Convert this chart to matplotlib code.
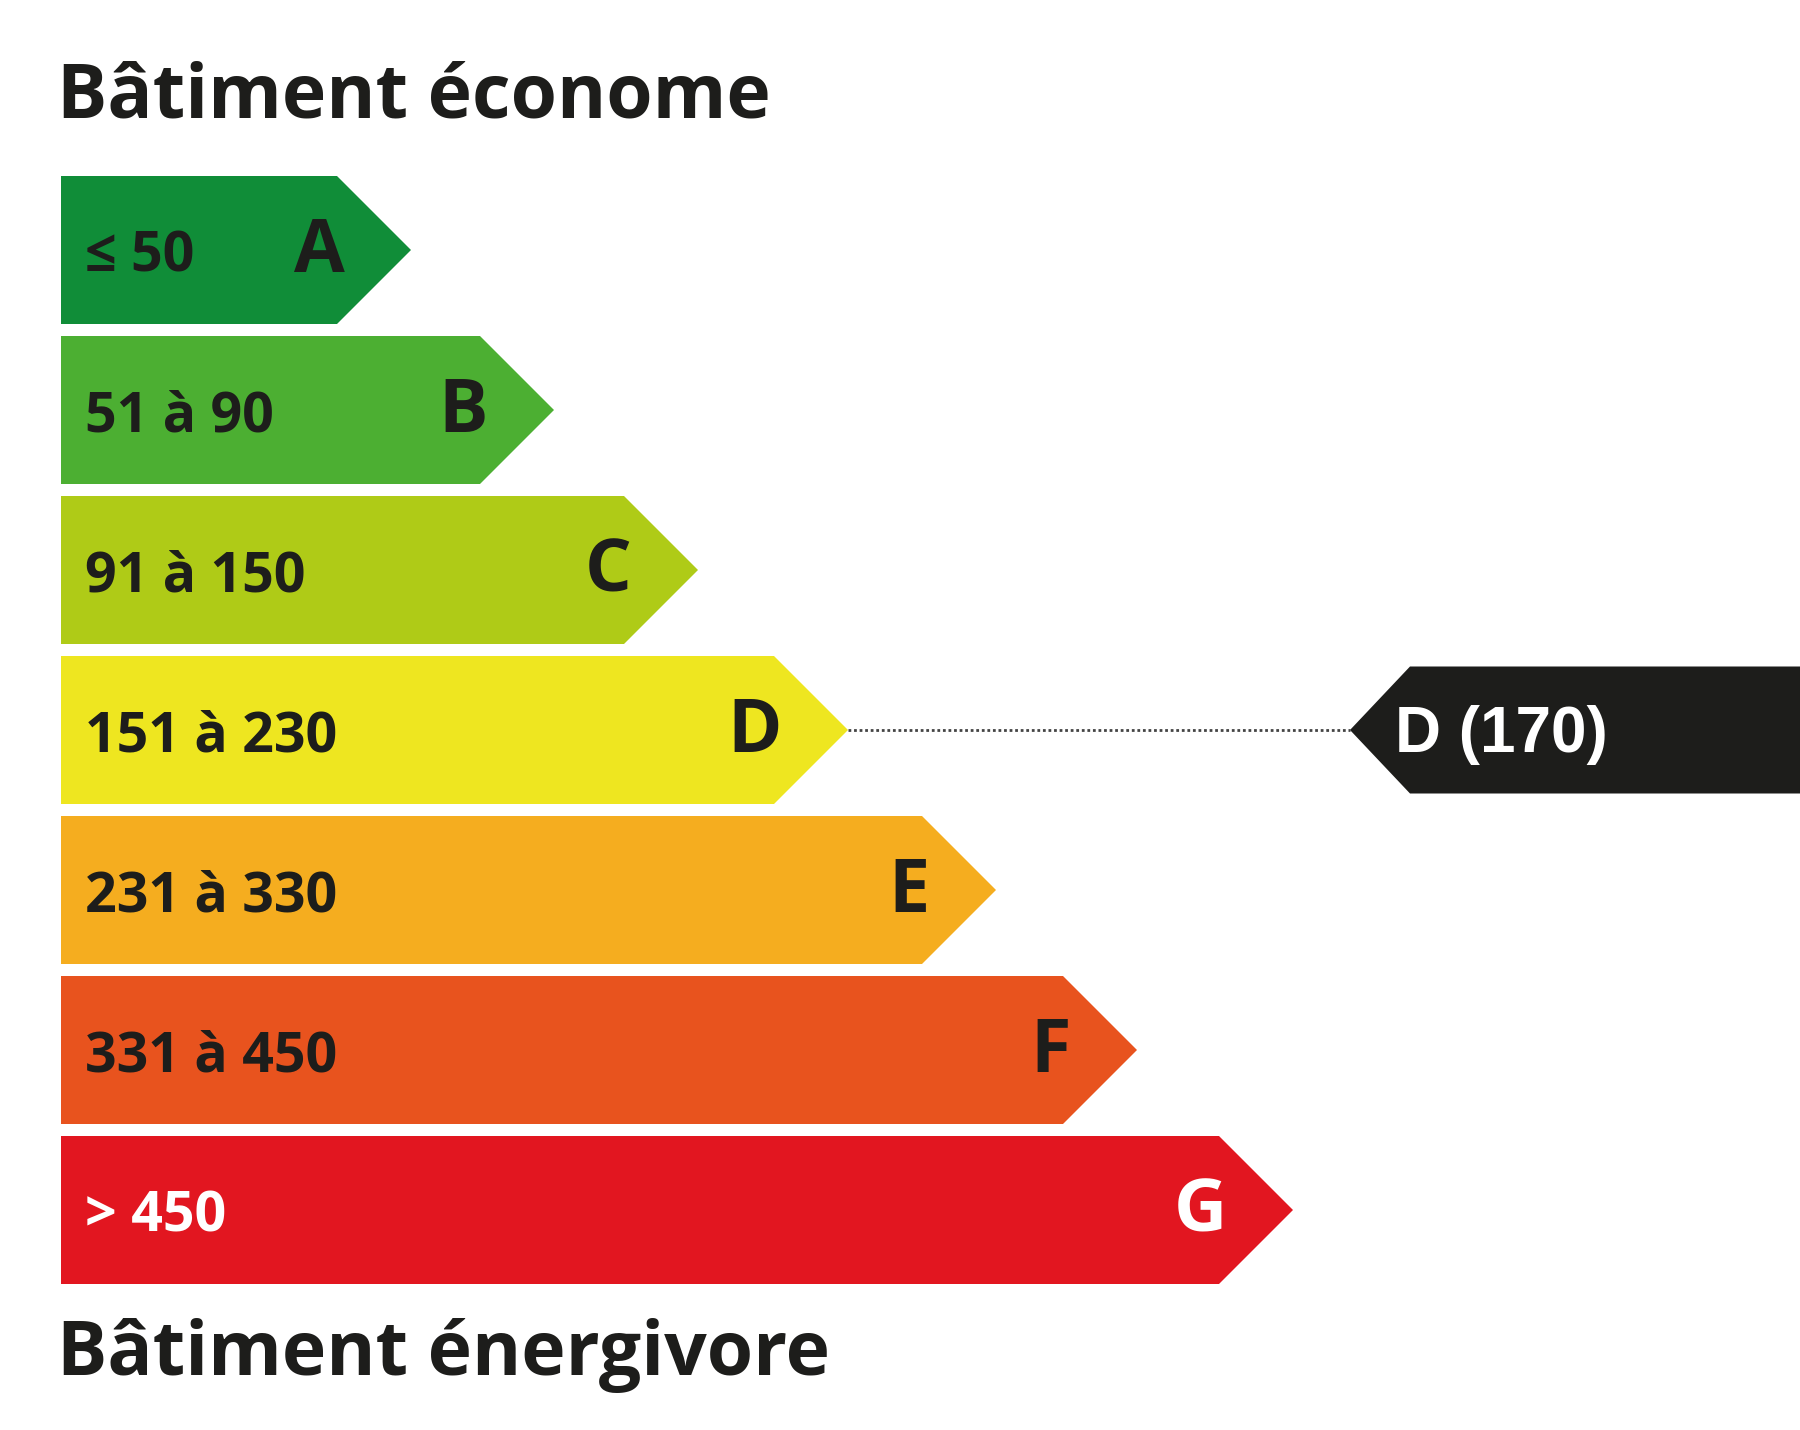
import matplotlib
matplotlib.use("Agg")
import matplotlib.pyplot as plt
from matplotlib.patches import Polygon

# classes énergie
classes = ["A", "B", "C", "D", "E", "F", "G"]
ranges = ["\u2264 50", "51 à 90", "91 à 150", "151 à 230", "231 à 330", "331 à 450", "> 450"]
bar_ends = [337, 480, 624, 774, 922, 1063, 1219]   # fin du corps de chaque flèche (px)
colors = ["#108d38", "#4caf32", "#afcb17", "#eee620", "#f5ad1f", "#e8531e", "#e21620"]
label_colors = ["#1d1d1b"] * 6 + ["#ffffff"]

current_class = "D"
current_value = 170

W, H = 1800, 1430
fig = plt.figure(figsize=(W / 100, H / 100), dpi=100)
ax = fig.add_axes([0, 0, 1, 1])
ax.set_xlim(0, W)
ax.set_ylim(H, 0)
ax.axis("off")

font = ["Open Sans", "DejaVu Sans"]
x0 = 61
top0 = 176
step = 160
bh = 148

for i, (c, r, end, col, lc) in enumerate(zip(classes, ranges, bar_ends, colors, label_colors)):
    top = top0 + i * step
    mid = top + bh / 2
    pts = [(x0, top), (end, top), (end + bh / 2, mid), (end, top + bh), (x0, top + bh)]
    ax.add_patch(Polygon(pts, closed=True, facecolor=col, edgecolor="none"))
    ax.text(85, mid + 22, r, family=font, fontweight="bold", fontsize=40,
            color=lc, ha="left", va="baseline")
    ax.text(end + 8, mid + 22, c, family=font, fontweight="bold", fontsize=53,
            color=lc, ha="right", va="baseline")

# étiquette du bâtiment
k = classes.index(current_class)
mid = top0 + k * step + bh / 2
tip_x = 1350
lh = 127
ax.plot([bar_ends[k] + bh / 2, tip_x], [mid, mid], color="#444444", lw=2, ls=(0, (1, 1)))
pts = [(tip_x, mid), (tip_x + 60, mid - lh / 2), (W, mid - lh / 2), (W, mid + lh / 2), (tip_x + 60, mid + lh / 2)]
ax.add_patch(Polygon(pts, closed=True, facecolor="#1d1d1b", edgecolor="none"))
ax.text(1395, mid + 22, f"{current_class} ({current_value})", family="Liberation Sans",
        fontweight="bold", fontsize=46, color="white", ha="left", va="baseline")

ax.text(57, 118, "Bâtiment économe", family=font, fontweight="bold", fontsize=54,
        color="#1d1d1b", ha="left", va="baseline")
ax.text(57, 1375, "Bâtiment énergivore", family=font, fontweight="bold", fontsize=54,
        color="#1d1d1b", ha="left", va="baseline")

fig.savefig("out.png", dpi=100, facecolor="white")
